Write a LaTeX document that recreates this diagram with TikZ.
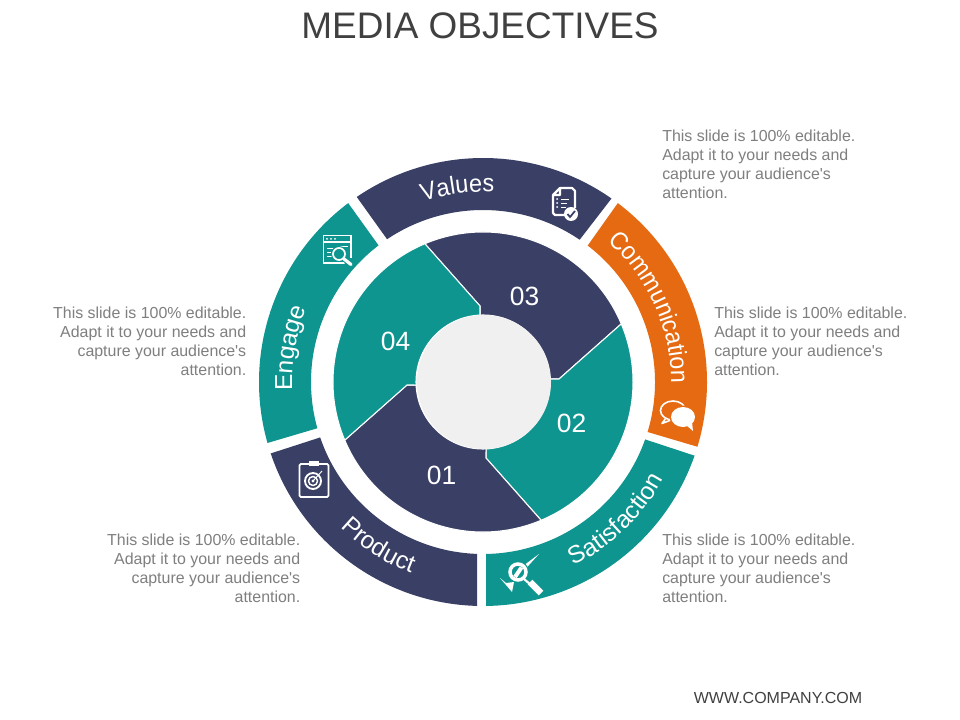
\documentclass[tikz,border=0pt]{standalone}
\usepackage{fontspec}
\setmainfont{Liberation Sans}
\newfontfamily\narrowfont[FakeStretch=0.92]{Liberation Sans}
\newfontfamily\midfont[FakeStretch=0.95]{Liberation Sans}
\usetikzlibrary{decorations.text}
\definecolor{navy}{HTML}{3A4065}
\definecolor{teal}{HTML}{0F958F}
\definecolor{orng}{HTML}{E56A12}
\definecolor{hub}{HTML}{F0F0F0}
\definecolor{bodygrey}{HTML}{7F7F7F}
\definecolor{titlegrey}{HTML}{404040}
\newcommand{\lblfont}{\fontsize{18.4}{22}\selectfont\color{white}}
\newcommand{\lblnarrow}{\narrowfont\fontsize{18.8}{22}\selectfont\color{white}}
\newcommand{\lblmid}{\midfont\fontsize{18.6}{22}\selectfont\color{white}}
\tikzset{
  bodytext/.style={text=bodygrey,inner sep=0pt,font=\fontsize{11.95}{14.25}\selectfont},
  leftblock/.style={bodytext,anchor=west,align=left},
  rightblock/.style={bodytext,anchor=east,align=right},
  numlabel/.style={text=white,inner sep=0pt,font=\fontsize{19.8}{23}\selectfont},
  icon/.style={draw=white,line width=1.2pt,fill=none},
  arclabel/.style={decorate,decoration={text along path,text align=center,text format delimiters={|}{|},text={#1}}}
}
\newcommand{\ringseg}[5]{\fill[#1] (#2:224) arc[start angle=#2,end angle=#3,radius=224] -- (#4:172) arc[start angle=#4,end angle=#5,radius=172] -- cycle;}
\newcommand{\bodylines}{This slide is 100\% editable.\\Adapt it to your needs and\\capture your audience\textquotesingle s\\attention.}
\begin{document}
\begin{tikzpicture}[x=.75pt,y=-.75pt]
\useasboundingbox (0,0) rectangle (960,720);
\fill[white] (0,0) rectangle (960,720);
\node[text=titlegrey,inner sep=0pt,font=\fontsize{27.7}{32}\selectfont] (title) at (480,26) {MEDIA OBJECTIVES};
\begin{scope}[shift={(483,382)},y=.75pt]
  \ringseg{navy}{198.6}{268.5}{268}{198.8}
  \ringseg{teal}{-89.2}{-19.2}{-19.5}{-89}
  \ringseg{orng}{-16.8}{53}{52.5}{-16.9}
  \ringseg{navy}{55}{124.3}{123.9}{55.8}
  \ringseg{teal}{127}{195.8}{195.6}{127.4}
  \foreach \k/\c in {0/navy,1/teal,2/navy,3/teal}{
    \fill[\c,draw=white,line width=.8pt,rotate=-90*\k]
      (92.6:67) -- (-3,76) -- (112.8:150) arc[start angle=112.8,end angle=22.8,radius=150]
      -- (76,3) -- (2.6:67) arc[start angle=2.6,end angle=92.6,radius=67] -- cycle;
  }
  \fill[hub] (1,0) circle[radius=67];
  \path[arclabel={|\lblmid|Values}] (120:190) arc[start angle=120,end angle=75,radius=190];
  \path[arclabel={|\lblnarrow|Communication}] (62:188) arc[start angle=62,end angle=-14,radius=188];
  \path[arclabel={|\lblfont|Satisfaction}] (-82:205) arc[start angle=-82,end angle=-10,radius=205];
  \path[arclabel={|\lblfont|Product}] (210:204) arc[start angle=210,end angle=265,radius=204];
  \path[arclabel={|\lblfont|Engage}] (195.5:191) arc[start angle=195.5,end angle=144.5,radius=191];
\end{scope}
\node[numlabel] (n03) at (524.5,296.5) {03};
\node[numlabel] (n02) at (571.5,423.5) {02};
\node[numlabel] (n01) at (441.5,475.5) {01};
\node[numlabel] (n04) at (395.5,341.5) {04};
\node[leftblock] (t1) at (662,164) {\bodylines};
\node[leftblock] (t2) at (714,341) {\bodylines};
\node[leftblock] (t3) at (662,568) {\bodylines};
\node[rightblock] (t4) at (300.5,568) {\bodylines};
\node[rightblock] (t5) at (246.5,341) {\bodylines};
\node[text=titlegrey,inner sep=0pt,font=\fontsize{12}{14}\selectfont] (footer) at (778,698) {WWW.COMPANY.COM};
% document icon
\draw[icon,line width=1.6pt,line join=round] (560,188) -- (572,188) -- (575,191) -- (575,208) (566,215) -- (555,215) -- (553,213) -- (553,195) -- (560,188) -- (560,195) -- (553,195);
\fill[white] (557,199) circle[radius=1] (557,203) circle[radius=1] (557,207) circle[radius=1];
\draw[white,line width=.7pt] (561,199) -- (569,199) (561,203) -- (567,203) (561,207) -- (566,207);
\fill[white] (571,214) circle[radius=7];
\draw[navy,line width=1.3pt] (567.5,214) -- (570,217) -- (575,211);
% chat icon
\draw[icon] (673,410.5) ellipse[x radius=12.5,y radius=9.5];
\draw[icon,line join=round] (666,418) -- (662,423.5) -- (671,420);
\fill[orng] (683,417) ellipse[x radius=13.5,y radius=11.5];
\fill[white] (683,417) ellipse[x radius=12,y radius=10];
\fill[white] (686,425) -- (693,431) -- (692,422) -- cycle;
% magnifier icon
\fill[white] (500,578) -- (512,592) -- (514,582) -- (506,583) -- cycle;
\fill[white] (512,577) -- (527,563) -- (539,554) -- (529,565) -- (514,580) -- cycle;
\fill[teal] (518,572) circle[radius=11];
\draw[white,line width=2.6pt] (518,572) circle[radius=8];
\draw[white,line width=3pt] (521.5,567.5) -- (515,577);
\draw[white,line width=1.6pt] (524,579) -- (531,585);
\draw[white,line width=5pt] (530,582) -- (541,593);
% browser icon
\draw[icon] (323.5,235.5) rectangle (351,263);
\draw[white,line width=1pt] (323.5,242) -- (351,242);
\fill[white] (327,238.8) circle[radius=1] (331,238.8) circle[radius=1] (335,238.8) circle[radius=1];
\draw[white,line width=.7pt] (327,248) -- (335,248) (327,252) -- (331,252) (327,256) -- (332,256);
\draw[white,line width=.7pt] (340,246) -- (348,246);
\fill[teal] (339,254) circle[radius=8];
\draw[icon,line width=1.3pt] (339,254) circle[radius=6];
\fill[teal] (343,259) -- (352,258) -- (353,267) -- (346,267) -- cycle;
\draw[white,line width=2.4pt,line cap=round] (344,259) -- (351,264.5);
% clipboard icon
\draw[icon,line width=1.3pt,rounded corners=1pt] (299.5,464) rectangle (328.5,497);
\fill[white] (309,461) rectangle (319,465.5);
\draw[white,line width=1.4pt] (313,481) circle[radius=8];
\draw[white,line width=1.1pt] (313,481) circle[radius=4.5];
\fill[white] (313,481) circle[radius=1.6];
\draw[white,line width=.7pt] (313,481) -- (322,471);
\end{tikzpicture}
\end{document}
